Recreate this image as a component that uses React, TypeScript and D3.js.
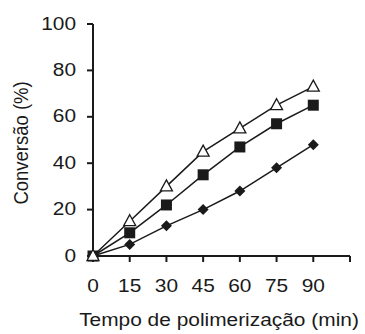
import React from "react";
import * as d3 from "d3";

const times = [0, 15, 30, 45, 60, 75, 90];
const triangleSeries = [0, 15, 30, 45, 55, 65, 73];
const squareSeries = [0, 10, 22, 35, 47, 57, 65];
const diamondSeries = [0, 5, 13, 20, 28, 38, 48];
const xTicks = [0, 15, 30, 45, 60, 75, 90, 105];
const xTickLabels = ["0", "15", "30", "45", "60", "75", "90", ""];
const yTicks = [0, 20, 40, 60, 80, 100];

export default function App() {
  const W = 365, H = 334;
  const x = d3.scaleLinear().domain([0, 105]).range([93, 350]);
  const y = d3.scaleLinear().domain([0, 100]).range([256, 24]);
  const line = d3.line<number>().x((_, i) => x(times[i])).y((d) => y(d));
  const font = "Liberation Sans, Arial, sans-serif";
  const col = "#1a1a1a";
  const fs = 18.5;
  const sx = 1.13;
  return (
    <svg width={W} height={H} style={{ position: "absolute", left: 0, top: 0, background: "#fff" }}>
      {/* axes */}
      <line x1={x(0)} x2={x(0)} y1={y(100)} y2={y(0)} stroke={col} strokeWidth={2} />
      <line x1={x(0)} x2={x(105)} y1={y(0)} y2={y(0)} stroke={col} strokeWidth={2} />
      {yTicks.map((t) => (
        <g key={"y" + t}>
          <line x1={x(0) - 6} x2={x(0)} y1={y(t)} y2={y(t)} stroke={col} strokeWidth={2} />
          <text transform={`translate(${x(0) - 17},${y(t) - 1}) scale(${sx},1)`} dy="0.36em" textAnchor="end" fontFamily={font} fontSize={fs} fill={col}>{t}</text>
        </g>
      ))}
      {xTicks.map((t, i) => (
        <g key={"x" + t}>
          <line x1={x(t)} x2={x(t)} y1={y(0)} y2={y(0) + 6} stroke={col} strokeWidth={2} />
          <text transform={`translate(${x(t)},285) scale(${sx},1)`} dy="0.36em" textAnchor="middle" fontFamily={font} fontSize={fs} fill={col}>{xTickLabels[i]}</text>
        </g>
      ))}
      <text transform={`translate(219,326) scale(${sx},1)`} textAnchor="middle" fontFamily={font} fontSize={fs} fill={col}>Tempo de polimerização (min)</text>
      <text transform={`translate(20,${143}) scale(${sx},1) rotate(-90)`} dy="0.36em" textAnchor="middle" fontFamily={font} fontSize={fs} fill={col}>Conversão (%)</text>
      {/* lines */}
      <path d={line(diamondSeries) || ""} fill="none" stroke={col} strokeWidth={1.5} />
      <path d={line(squareSeries) || ""} fill="none" stroke={col} strokeWidth={1.5} />
      <path d={line(triangleSeries) || ""} fill="none" stroke={col} strokeWidth={1.5} />
      {/* markers */}
      {diamondSeries.map((v, i) => (
        <path key={"d" + i} transform={`translate(${x(times[i])},${y(v)})`} d="M0,-5.5L5.5,0L0,5.5L-5.5,0Z" fill={col} />
      ))}
      {squareSeries.map((v, i) => (
        <rect key={"s" + i} x={x(times[i]) - 5.5} y={y(v) - 5.5} width={11} height={11} fill={col} />
      ))}
      {triangleSeries.map((v, i) => (
        <path key={"t" + i} transform={`translate(${x(times[i])},${y(v)})`} d="M0,-6.5L6,4.5L-6,4.5Z" fill="#fff" stroke={col} strokeWidth={1.3} />
      ))}
    </svg>
  );
}
